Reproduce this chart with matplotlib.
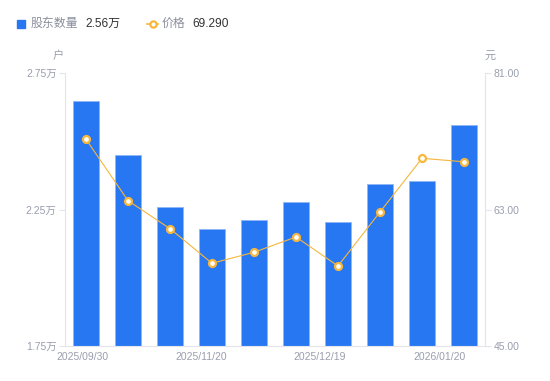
import matplotlib
matplotlib.use("Agg")
import matplotlib.pyplot as plt
from matplotlib.lines import Line2D

plt.rcParams['font.family'] = ['Liberation Sans', 'Noto Sans CJK SC', 'DejaVu Sans']

categories = list(range(10))
holders = [2.647, 2.448, 2.259, 2.180, 2.212, 2.277, 2.204, 2.345, 2.354, 2.56]
prices = [72.26, 64.17, 60.47, 55.91, 57.36, 59.38, 55.55, 62.67, 69.75, 69.29]
xtick_pos = [-0.095, 2.74, 5.57, 8.43]
xtick_labels = ["2025/09/30", "2025/11/20", "2025/12/19", "2026/01/20"]
left_ticks = [1.75, 2.25, 2.75]
left_labels = ["1.75万", "2.25万", "2.75万"]
right_ticks = [45.0, 63.0, 81.0]
right_labels = ["45.00", "63.00", "81.00"]

BLUE = "#2877f2"
ORANGE = "#f6b73c"
GRAY = "#9a9eae"
AXC = "#e3e5ea"

fig = plt.figure(figsize=(5.5, 3.81), dpi=100)
ax = fig.add_axes([65/550, 35/381, 420/550, 273/381])
ax2 = ax.twinx()

ax.bar(categories, holders, width=0.6, color=BLUE, edgecolor="#8fb6f7", linewidth=0.6, zorder=2)
ax.set_ylim(1.75, 2.75)
ax.set_xlim(-0.5, 9.5)

ax2.plot(categories, prices, color=ORANGE, lw=0.8, marker='o', markersize=5,
         markerfacecolor='white', markeredgecolor=ORANGE, markeredgewidth=1.6, zorder=3)
ax2.set_ylim(45, 81)

ax.set_yticks(left_ticks)
ax.set_yticklabels(left_labels)
ax2.set_yticks(right_ticks)
ax2.set_yticklabels(right_labels)
ax.set_xticks(xtick_pos)
ax.set_xticklabels(xtick_labels)

for a in (ax, ax2):
    for s in a.spines.values():
        s.set_visible(False)
ax.spines['left'].set_visible(True)
ax.spines['left'].set_color(AXC)
ax.spines['bottom'].set_visible(True)
ax.spines['bottom'].set_color(AXC)
ax2.spines['right'].set_visible(True)
ax2.spines['right'].set_color(AXC)

ax.tick_params(axis='y', colors=AXC, labelcolor=GRAY, labelsize=7.5, length=4, width=0.8, pad=2)
ax2.tick_params(axis='y', colors=AXC, labelcolor=GRAY, labelsize=7.5, length=4, width=0.8, pad=2)
ax.tick_params(axis='x', length=0, labelcolor=GRAY, labelsize=7.5, pad=4)

fig.text(58/550, 1 - 56/381, "户", color=GRAY, fontsize=8, ha='center', va='center')
fig.text(490/550, 1 - 56/381, "元", color=GRAY, fontsize=8, ha='center', va='center')

# legend
fig.patches.append(plt.Rectangle((17/550, 1 - 28/381), 8/550, 8/381, transform=fig.transFigure,
                                 color=BLUE, figure=fig))
fig.text(31/550, 1 - 24/381, "股东数量", color="#8a8f9c", fontsize=8.6, va='center')
fig.text(85/550, 1 - 24/381, "2.56万", color="#333333", fontsize=8.6, va='center')
fig.lines.append(Line2D([147/550, 158/550], [1 - 24/381, 1 - 24/381], transform=fig.transFigure,
                        color=ORANGE, lw=1.2))
fig.lines.append(Line2D([152.5/550], [1 - 24/381], transform=fig.transFigure, color=ORANGE,
                        marker='o', markersize=4.5, markerfacecolor='white', markeredgewidth=1.6, lw=0))
fig.text(162/550, 1 - 24/381, "价格", color="#8a8f9c", fontsize=8.6, va='center')
fig.text(192/550, 1 - 24/381, "69.290", color="#333333", fontsize=8.6, va='center')

fig.savefig("out.png", dpi=100)
